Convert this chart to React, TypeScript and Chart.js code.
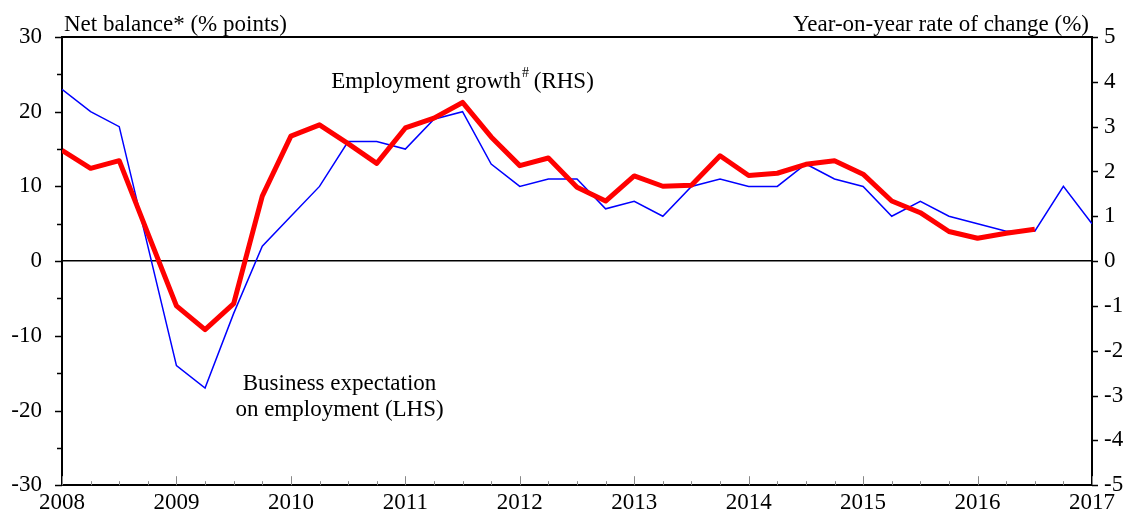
import React, { useEffect, useRef } from "react";
import { Chart, registerables } from "chart.js";

Chart.register(...registerables);

// Quarterly observations, 2008 Q1 .. 2017 Q1
const quarters: string[] = [];
for (let y = 2008; y <= 2017; y++) {
  for (let q = 1; q <= 4; q++) {
    if (y === 2017 && q > 1) break;
    quarters.push(`${y}Q${q}`);
  }
}

const yearLabels = ["2008", "2009", "2010", "2011", "2012", "2013", "2014", "2015", "2016", "2017"];

// Business expectation on employment (LHS, net balance % points)
const businessExpectation = [
  23, 20, 18, 2, -14, -17, -7, 2, 6, 10, 16, 16, 15, 19, 20, 13, 10, 11, 11, 7,
  8, 6, 10, 11, 10, 10, 13, 11, 10, 6, 8, 6, 5, 4, 4, 10, 5,
];

// Employment growth (RHS, year-on-year %)
const employmentGrowth = [
  2.47, 2.07, 2.24, 0.62, -1.0, -1.53, -0.95, 1.45, 2.79, 3.04, 2.62, 2.18, 2.97, 3.19, 3.54,
  2.77, 2.13, 2.3, 1.65, 1.34, 1.9, 1.67, 1.69, 2.35, 1.91, 1.96, 2.16, 2.24, 1.94, 1.34,
  1.08, 0.66, 0.51, 0.62, 0.71,
];

const leftTicks = [-30, -20, -10, 0, 10, 20, 30];
const rightTicks = [-5, -4, -3, -2, -1, 0, 1, 2, 3, 4, 5];

const leftTitle = "Net balance* (% points)";
const rightTitle = "Year-on-year rate of change (%)";
const empLabel = "Employment growth";
const empSup = "#";
const empSuffix = " (RHS)";
const bizLabel1 = "Business expectation";
const bizLabel2 = "on employment (LHS)";

const FONT = "'Liberation Serif', 'Times New Roman', serif";
const FS = 23;

export default function App() {
  const ref = useRef<HTMLCanvasElement | null>(null);

  useEffect(() => {
    if (!ref.current) return;

    const decor = {
      id: "decor",
      afterDraw(chart: any) {
        const { ctx, chartArea: a, scales } = chart;
        const xs = scales.x;
        const yl = scales.y;
        const yr = scales.y1;
        ctx.save();
        ctx.strokeStyle = "#000";
        // top border
        ctx.lineWidth = 2;
        ctx.beginPath();
        ctx.moveTo(a.left, a.top);
        ctx.lineTo(a.right, a.top);
        ctx.stroke();
        // x ticks (inward)
        ctx.lineWidth = 1;
        ctx.strokeStyle = "#888";
        for (let i = 0; i < quarters.length; i++) {
          const px = Math.round(xs.getPixelForValue(i)) + 0.5;
          const len = i % 4 === 0 ? 9 : 4;
          ctx.beginPath();
          ctx.moveTo(px, a.bottom);
          ctx.lineTo(px, a.bottom - len);
          ctx.stroke();
        }
        // left ticks (outward) at every 5
        ctx.strokeStyle = "#000";
        ctx.lineWidth = 1.5;
        for (let v = -30; v <= 30; v += 5) {
          const py = Math.round(yl.getPixelForValue(v)) + 0.5;
          const len = v % 10 === 0 ? 7 : 5;
          ctx.beginPath();
          ctx.moveTo(a.left, py);
          ctx.lineTo(a.left - len, py);
          ctx.stroke();
        }
        // right ticks
        for (const v of rightTicks) {
          const py = Math.round(yr.getPixelForValue(v)) + 0.5;
          ctx.beginPath();
          ctx.moveTo(a.right, py);
          ctx.lineTo(a.right + 6, py);
          ctx.stroke();
        }
        // titles
        ctx.fillStyle = "#000";
        ctx.font = `${FS}px ${FONT}`;
        ctx.textBaseline = "alphabetic";
        ctx.textAlign = "left";
        ctx.fillText(leftTitle, 64, 31);
        ctx.textAlign = "right";
        ctx.fillText(rightTitle, 1089, 31);

        // Employment growth annotation
        const ex = xs.getPixelForValue(14);
        const ey = yl.getPixelForValue(24.0);
        const w1 = ctx.measureText(empLabel).width;
        ctx.font = `14px ${FONT}`;
        const w2 = ctx.measureText(empSup).width;
        ctx.font = `${FS}px ${FONT}`;
        const w3 = ctx.measureText(empSuffix).width;
        const total = w1 + w2 + w3;
        const sx = ex - total / 2;
        ctx.textAlign = "left";
        ctx.textBaseline = "middle";
        ctx.fillText(empLabel, sx, ey);
        ctx.font = `14px ${FONT}`;
        ctx.fillText(empSup, sx + w1 + 1, ey - 8);
        ctx.font = `${FS}px ${FONT}`;
        ctx.fillText(empSuffix, sx + w1 + w2, ey);

        // Business expectation annotation
        const bx = xs.getPixelForValue(9.7);
        ctx.textAlign = "center";
        ctx.fillText(bizLabel1, bx, yl.getPixelForValue(-16.5));
        ctx.fillText(bizLabel2, bx, yl.getPixelForValue(-19.9));
        ctx.restore();
      },
    };

    const chart = new Chart(ref.current, {
      type: "line",
      data: {
        datasets: [
          {
            label: "Employment growth (RHS)",
            data: employmentGrowth.map((v, i) => ({ x: i, y: v })),
            yAxisID: "y1",
            borderColor: "#ff0000",
            borderWidth: 5,
            pointRadius: 0,
            tension: 0,
            borderJoinStyle: "round",
            order: 0,
          },
          {
            label: "Business expectation on employment (LHS)",
            data: businessExpectation.map((v, i) => ({ x: i, y: v })),
            yAxisID: "y",
            borderColor: "#0000ff",
            borderWidth: 1.5,
            pointRadius: 0,
            tension: 0,
            order: 1,
          },
        ],
      },
      options: {
        animation: false,
        responsive: true,
        maintainAspectRatio: false,
        layout: { padding: { top: 37, left: 0, right: 0, bottom: 0 } },
        plugins: {
          legend: { display: false },
          tooltip: { enabled: false },
          title: { display: false },
        },
        scales: {
          x: {
            type: "linear",
            min: 0,
            max: quarters.length - 1,
            afterBuildTicks: (s: any) => {
              s.ticks = yearLabels.map((_, i) => ({ value: i * 4 }));
            },
            ticks: {
              autoSkip: false,
              maxRotation: 0,
              padding: 4,
              color: "#000",
              font: { family: FONT, size: FS },
              callback: (v: any) => yearLabels[Math.round(Number(v) / 4)] ?? "",
            },
            grid: { display: false, drawTicks: false },
            border: { display: true, color: "#000", width: 2 },
            afterFit: (s: any) => {
              s.height = 28;
            },
          },
          y: {
            position: "left",
            min: -30,
            max: 30,
            afterBuildTicks: (s: any) => {
              s.ticks = leftTicks.map((v) => ({ value: v }));
            },
            ticks: {
              padding: 20,
              color: "#000",
              font: { family: FONT, size: FS },
            },
            grid: {
              drawTicks: false,
              color: (c: any) => (c.tick && c.tick.value === 0 ? "#000" : "rgba(0,0,0,0)"),
              lineWidth: 1.5,
            },
            border: { display: true, color: "#000", width: 2 },
            afterFit: (s: any) => {
              s.width = 62;
            },
          },
          y1: {
            position: "right",
            min: -5,
            max: 5,
            afterBuildTicks: (s: any) => {
              s.ticks = rightTicks.map((v) => ({ value: v }));
            },
            ticks: {
              padding: 12,
              color: "#000",
              font: { family: FONT, size: FS },
            },
            grid: { display: false, drawTicks: false },
            border: { display: true, color: "#000", width: 2 },
            afterFit: (s: any) => {
              s.width = 39;
            },
          },
        },
      },
      plugins: [decor],
    } as any);

    return () => chart.destroy();
  }, []);

  return (
    <div style={{ position: "fixed", left: 0, top: 0, width: 1131, height: 519, background: "#fff" }}>
      <canvas ref={ref} />
    </div>
  );
}
